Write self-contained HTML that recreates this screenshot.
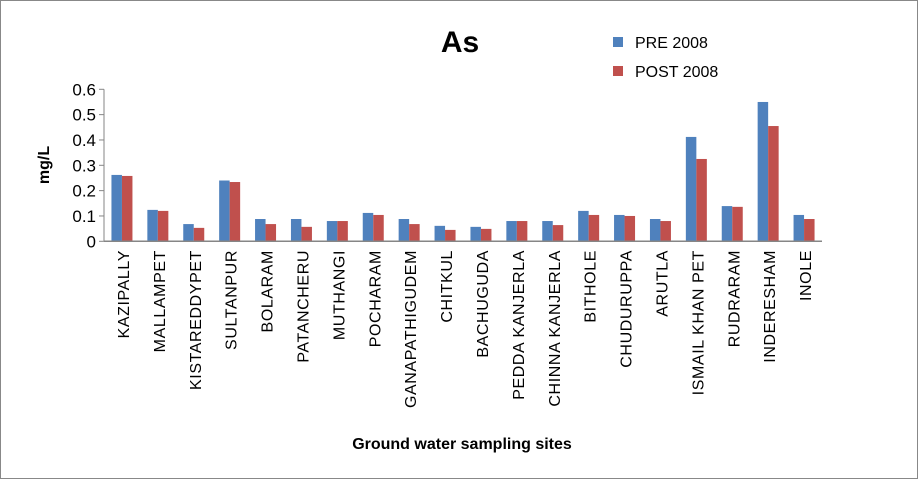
<!DOCTYPE html>
<html><head><meta charset="utf-8"><style>
body{margin:0;background:#fff;}
svg{display:block;font-family:"Liberation Sans",Arial,sans-serif;}
</style></head><body>
<svg width="919" height="480">
<rect x="0.5" y="0.5" width="917" height="478" fill="#fff" stroke="#888"/>
<text x="460" y="52" font-size="30" font-weight="bold" text-anchor="middle">As</text>
<g>
<rect x="613" y="37" width="10" height="10" fill="#4f81bd"/>
<text x="635" y="48" font-size="16">PRE 2008</text>
<rect x="613" y="66" width="10" height="10" fill="#c0504d"/>
<text x="635" y="77" font-size="16">POST 2008</text>
</g>
<text transform="translate(49,165) rotate(-90)" font-size="16" font-weight="bold" text-anchor="middle">mg/L</text>
<text x="462" y="449" font-size="16" font-weight="bold" text-anchor="middle">Ground water sampling sites</text>
<g id="plot"></g>
</svg>
<script>
const categories=["KAZIPALLY","MALLAMPET","KISTAREDDYPET","SULTANPUR","BOLARAM","PATANCHERU","MUTHANGI","POCHARAM","GANAPATHIGUDEM","CHITKUL","BACHUGUDA","PEDDA KANJERLA","CHINNA KANJERLA","BITHOLE","CHUDURUPPA","ARUTLA","ISMAIL KHAN PET","RUDRARAM","INDERESHAM","INOLE"];
const pre2008=[0.262,0.124,0.068,0.24,0.088,0.088,0.08,0.112,0.088,0.061,0.057,0.08,0.08,0.12,0.104,0.088,0.412,0.139,0.55,0.104];
const post2008=[0.258,0.12,0.053,0.234,0.068,0.057,0.08,0.104,0.068,0.045,0.049,0.08,0.064,0.104,0.1,0.08,0.325,0.136,0.455,0.088];
const yTicks=[0,0.1,0.2,0.3,0.4,0.5,0.6];
const yTickLabels=["0","0.1","0.2","0.3","0.4","0.5","0.6"];
const NS="http://www.w3.org/2000/svg";
const g=document.getElementById('plot');
const x0=104,x1=822,yBase=241.3,yTop=89.3,yMax=0.6;
const y=v=>yBase-(v/yMax)*(yBase-yTop);
const band=(x1-x0)/categories.length;
const xc=i=>x0+band*(i+0.5);
function mk(t,a){const e=document.createElementNS(NS,t);for(const k in a)e.setAttribute(k,a[k]);g.appendChild(e);return e;}
yTicks.forEach((t,i)=>{
 const tk=mk('line',{x1:x0-5,x2:x0,y1:y(t),y2:y(t),stroke:'#868686'});
 
 
 const lb=mk('text',{x:x0-8,y:y(t)+6,'font-size':17,'text-anchor':'end'});
 lb.textContent=yTickLabels[i];
 
 
});
const bw=10.5;
categories.forEach((c,i)=>{
 const b1=mk('rect',{x:xc(i)-bw,y:y(pre2008[i]),width:bw,height:yBase-y(pre2008[i]),fill:'#4f81bd'});
 
 
 const b2=mk('rect',{x:xc(i),y:y(post2008[i]),width:bw,height:yBase-y(post2008[i]),fill:'#c0504d'});
 
 
 const t=mk('text',{transform:`translate(${xc(i)+7},250) rotate(-90)`,'font-size':16,'letter-spacing':0.6,'text-anchor':'end'});
 t.textContent=c;
 
 
});
const ya=mk('line',{x1:x0,x2:x0,y1:yTop,y2:yBase,stroke:'#868686'});


const xa=mk('line',{x1:x0,x2:x1,y1:yBase,y2:yBase,stroke:'#868686','stroke-width':1.5});


</script>
</body></html>
